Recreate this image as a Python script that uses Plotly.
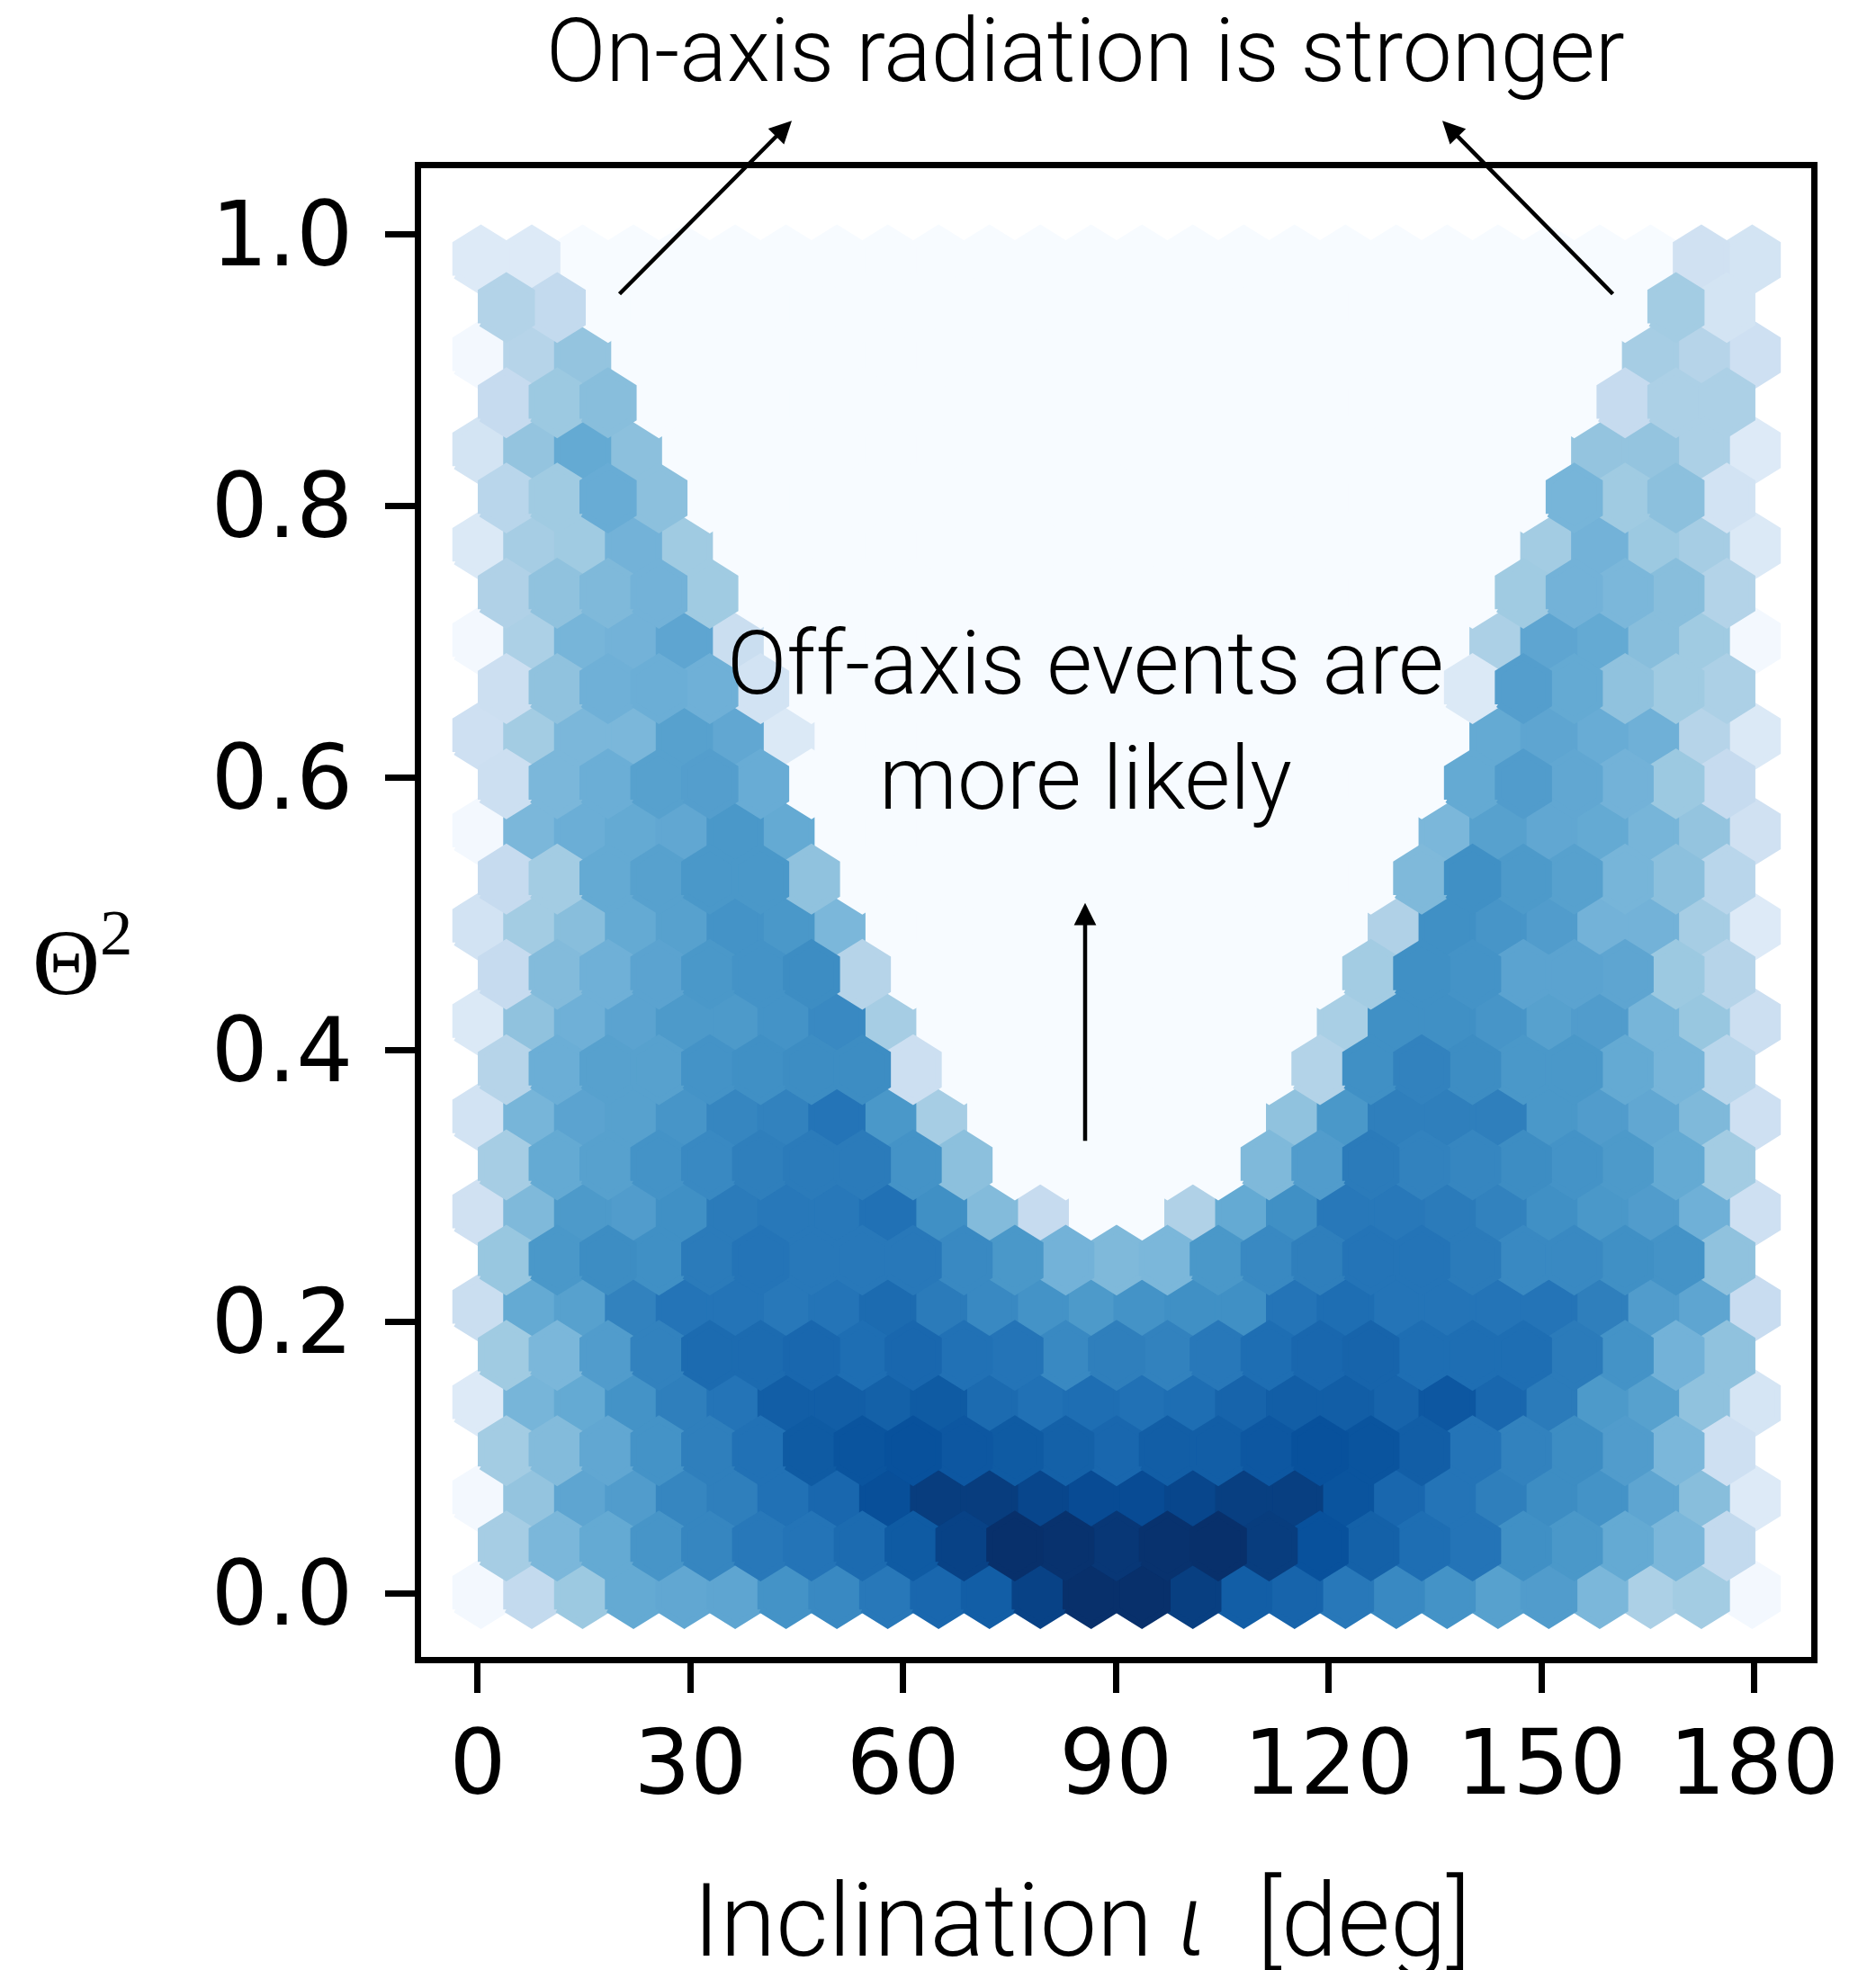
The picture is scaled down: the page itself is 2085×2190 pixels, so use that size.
import plotly.graph_objects as go
from plotly.colors import sample_colorscale

# Hexbin intensity (percent of the colour scale below), top row to bottom row.
# Even rows hold 26 cells, odd rows are staggered and hold 25.
row_00 = [13,13,0,0,0,0,0,0,0,0,0,0,0,0,0,0,0,0,0,0,0,0,0,0,20,18]
row_01 = [31,26,0,0,0,0,0,0,0,0,0,0,0,0,0,0,0,0,0,0,0,0,0,36,18]
row_02 = [2,30,40,0,0,0,0,0,0,0,0,0,0,0,0,0,0,0,0,0,0,0,0,35,30,21]
row_03 = [25,38,43,0,0,0,0,0,0,0,0,0,0,0,0,0,0,0,0,0,0,0,25,33,33]
row_04 = [18,40,52,42,0,0,0,0,0,0,0,0,0,0,0,0,0,0,0,0,0,0,40,40,33,13]
row_05 = [29,37,51,42,0,0,0,0,0,0,0,0,0,0,0,0,0,0,0,0,0,47,37,42,19]
row_06 = [14,35,37,48,37,0,0,0,0,0,0,0,0,0,0,0,0,0,0,0,0,36,48,38,35,14]
row_07 = [32,41,45,48,37,0,0,0,0,0,0,0,0,0,0,0,0,0,0,0,37,48,46,43,31]
row_08 = [2,33,47,48,54,23,0,0,0,0,0,0,0,0,0,0,0,0,0,0,33,54,52,43,37,2]
row_09 = [22,41,49,50,49,19,0,0,0,0,0,0,0,0,0,0,0,0,0,14,57,52,41,37,33]
row_10 = [21,36,46,46,56,53,14,0,0,0,0,0,0,0,0,0,0,0,0,0,52,54,51,49,30,14]
row_11 = [22,46,50,56,57,51,0,0,0,0,0,0,0,0,0,0,0,0,0,52,58,53,48,38,25]
row_12 = [2,46,50,52,53,60,52,0,0,0,0,0,0,0,0,0,0,0,0,46,56,53,52,47,40,20]
row_13 = [25,36,52,56,60,60,41,0,0,0,0,0,0,0,0,0,0,0,45,63,59,56,47,42,29]
row_14 = [19,36,43,52,56,62,60,46,0,0,0,0,0,0,0,0,0,0,32,63,61,58,48,48,35,13]
row_15 = [25,44,49,55,60,62,64,30,0,0,0,0,0,0,0,0,0,36,63,62,55,55,54,38,30]
row_16 = [14,41,49,55,59,59,62,65,35,0,0,0,0,0,0,0,0,34,63,63,61,56,58,47,39,22]
row_17 = [30,50,56,56,62,63,64,64,22,0,0,0,0,0,0,0,31,63,67,64,60,60,52,47,29]
row_18 = [19,47,55,56,61,66,67,71,60,35,0,0,0,0,0,0,41,60,68,68,68,60,58,53,45,21]
row_19 = [35,52,56,62,65,68,69,69,62,42,0,0,0,0,0,45,58,69,67,66,64,62,59,52,36]
row_20 = [20,45,59,58,63,69,70,70,72,63,44,25,0,0,32,52,63,70,70,69,67,63,60,58,49,21]
row_21 = [39,60,64,63,69,71,70,70,70,65,60,48,45,46,60,65,68,71,71,69,65,65,63,62,41]
row_22 = [23,52,56,67,71,71,70,71,74,69,65,62,59,62,63,63,71,73,71,71,71,71,68,58,54,24]
row_23 = [37,46,58,67,74,74,75,73,75,72,71,65,68,67,70,73,75,76,73,73,73,69,62,48,41]
row_24 = [13,47,52,62,68,71,78,78,77,79,74,72,73,72,73,76,78,78,76,80,75,69,59,56,41,17]
row_25 = [36,44,53,62,68,72,79,81,82,80,79,77,75,78,78,80,82,81,78,71,67,64,58,46,21]
row_26 = [2,40,54,58,66,68,72,75,83,93,93,88,85,85,88,92,92,81,75,71,68,64,62,54,43,13]
row_27 = [35,46,52,61,66,70,71,74,79,90,100,99,96,99,100,93,82,77,73,71,63,60,52,46,26]
row_28 = [2,26,38,52,53,54,62,65,70,75,78,90,100,100,92,78,76,70,65,62,56,58,46,33,36,2]
hex_rows = [row_00,row_01,row_02,row_03,row_04,row_05,row_06,row_07,row_08,row_09,
            row_10,row_11,row_12,row_13,row_14,row_15,row_16,row_17,row_18,row_19,
            row_20,row_21,row_22,row_23,row_24,row_25,row_26,row_27,row_28]

x_ticks = [0, 30, 60, 90, 120, 150, 180]
y_ticks = [0.0, 0.2, 0.4, 0.6, 0.8, 1.0]

BLUES = [[0, "rgb(247,251,255)"], [0.125, "rgb(222,235,247)"], [0.25, "rgb(198,219,239)"],
         [0.375, "rgb(158,202,225)"], [0.5, "rgb(107,174,214)"], [0.625, "rgb(66,146,198)"],
         [0.72, "rgb(33,113,181)"], [0.82, "rgb(8,81,156)"], [1, "rgb(8,48,107)"]]

W, H = 2085, 2190
L, R, T, B = 468, 2013, 186.8, 1842.5      # plot rectangle in page pixels
X_RANGE = [-7.99, 188.07]
Y_RANGE = [-0.0466, 1.0484]
X_FIRST, X_LAST = 0.45, 179.75
Y_TOP, Y_BOTTOM = 0.981, 0.0
HEX_EDGE = 7

def px(x): return (x - L) / (R - L)
def py(y): return (B - y) / (B - T)

dx = (X_LAST - X_FIRST) / 25
dy = (Y_TOP - Y_BOTTOM) / 28
hr = dy * 2 / 3       # vertex distance, in y units

# The staggered lattice is drawn over the plain one, as their edges overlap.
polys = {}
for r, row in enumerate(hex_rows):
    yc = Y_TOP - r * dy
    off = dx / 2 if r % 2 else 0
    for c, v in enumerate(row):
        xc = X_FIRST + off + c * dx
        xs = [xc - dx/2, xc - dx/2, xc, xc + dx/2, xc + dx/2, xc, xc - dx/2, None]
        ys = [yc - hr/2, yc + hr/2, yc + hr, yc + hr/2, yc - hr/2, yc - hr, yc - hr/2, None]
        bucket = polys.setdefault((r % 2, v), ([], []))
        bucket[0].extend(xs)
        bucket[1].extend(ys)

fig = go.Figure()
for key in sorted(polys):
    col = sample_colorscale(BLUES, key[1] / 100)[0]
    fig.add_trace(go.Scatter(x=polys[key][0], y=polys[key][1], mode="lines", fill="toself",
                             fillcolor=col, line=dict(color=col, width=HEX_EDGE),
                             hoverinfo="skip", showlegend=False))

TXT = "Roboto"
def label(text, x, y, size, font=TXT, weight=300):
    fig.add_annotation(text=text, xref="paper", yref="paper", x=px(x), y=py(y),
                       xanchor="center", yanchor="middle", showarrow=False,
                       font=dict(family=font, size=size, color="black", weight=weight))

def arrow(x0, y0, x1, y1):
    fig.add_annotation(text="", xref="paper", yref="paper", x=px(x1), y=py(y1),
                       axref="pixel", ayref="pixel", ax=x0 - x1, ay=y0 - y1,
                       showarrow=True, arrowhead=2, arrowsize=1.1, arrowwidth=4.5,
                       arrowcolor="black", standoff=0, startstandoff=0)

label("On-axis radiation is stronger", 1206, 56, 98)
label("Off-axis events are", 1206, 738, 98)
label("more likely", 1206, 866, 98)
label("Inclination\u00a0<i>ι</i>\u00a0\u00a0[deg]", 1202, 2136, 113)
label("Θ<sup>2</sup>", 92, 1062, 104, font="Liberation Serif", weight=400)
arrow(687, 328, 880, 134)
arrow(1794, 328, 1603, 134)
arrow(1206, 1270, 1206, 1004)

axis_common = dict(showline=True, linewidth=7, linecolor="black", mirror=True,
                   showgrid=False, zeroline=False, ticks="outside", ticklen=33,
                   tickwidth=7, tickcolor="black",
                   tickfont=dict(family="DejaVu Sans", size=99, color="black"))
fig.update_xaxes(range=X_RANGE, tickvals=x_ticks, ticktext=[str(t) for t in x_ticks],
                 ticklabelstandoff=-7, **axis_common)
fig.update_yaxes(range=Y_RANGE, tickvals=y_ticks, ticktext=[f"{t:.1f}" for t in y_ticks],
                 ticklabelstandoff=16, **axis_common)
fig.update_layout(width=W, height=H, autosize=False, paper_bgcolor="white",
                  plot_bgcolor="white", showlegend=False,
                  margin=dict(l=L, r=W - R, t=T, b=H - B, pad=0))

fig.write_html("out.html", post_script="document.body.style.margin='0';",
               config=dict(displayModeBar=False))
